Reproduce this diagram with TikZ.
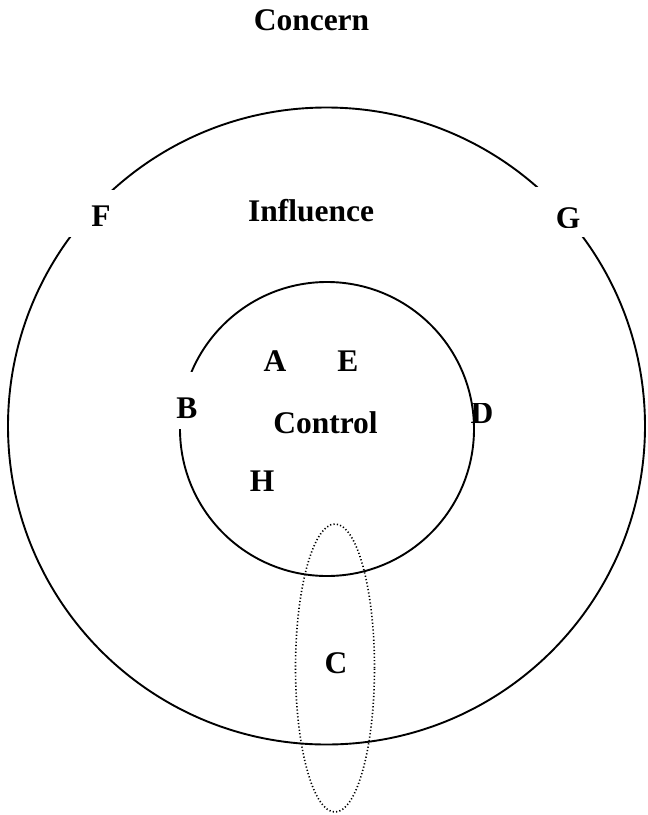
\documentclass[tikz,border=0pt]{standalone}
\usepackage{fontspec}
\setmainfont{Liberation Serif}
\usetikzlibrary{shapes.geometric}
\begin{document}
\begin{tikzpicture}[x=1pt,y=-1pt,
  lbl/.style={font=\bfseries\fontsize{31.5}{36}\selectfont, inner sep=0pt, anchor=base},
  ring/.style={draw=black, line width=1.9pt},
  zone/.style={draw=black, line width=1.6pt, dash pattern=on 1.2pt off 2.2pt},
  erase/.style={fill=white, draw=none, inner sep=0pt}]
\useasboundingbox (0,0) rectangle (648,815);
% D label sits under the inner circle, its top clipped
\begin{scope}
  \clip (455,403.5) rectangle (510,440);
  \node[lbl] (D) at (482,423) {D};
\end{scope}
% circles
\node[ring, circle, minimum size=637pt, inner sep=0pt] (outer) at (326.5,426) {};
\node[ring, circle, minimum size=294pt, inner sep=0pt] (inner) at (327,429) {};
\node[zone, ellipse, minimum width=79pt, minimum height=288pt, inner sep=0pt] (czone) at (335,668) {};
% white boxes behind labels
\node[erase, minimum width=60pt, minimum height=47pt] (Fbox) at (96,213.5) {};
\node[erase, minimum width=60pt, minimum height=50pt] (Gbox) at (564,212) {};
\node[erase, minimum width=40pt, minimum height=57pt] (Bbox) at (187,400.5) {};
% labels
\node[lbl] (concern) at (311.5,30) {Concern};
\node[lbl] (influence) at (311,221) {Influence};
\node[lbl] (control) at (325.5,433) {Control};
\node[lbl] (F) at (101,226) {F};
\begin{scope}
  \clip (540,180) rectangle (600,227.5);
  \node[lbl] (G) at (568,228) {G};
\end{scope}
\node[lbl] (B) at (187,418) {B};
\node[lbl] (A) at (275,371) {A};
\node[lbl] (E) at (348,371) {E};
\node[lbl] (H) at (262,491) {H};
\node[lbl] (C) at (336,673) {C};
\end{tikzpicture}
\end{document}
